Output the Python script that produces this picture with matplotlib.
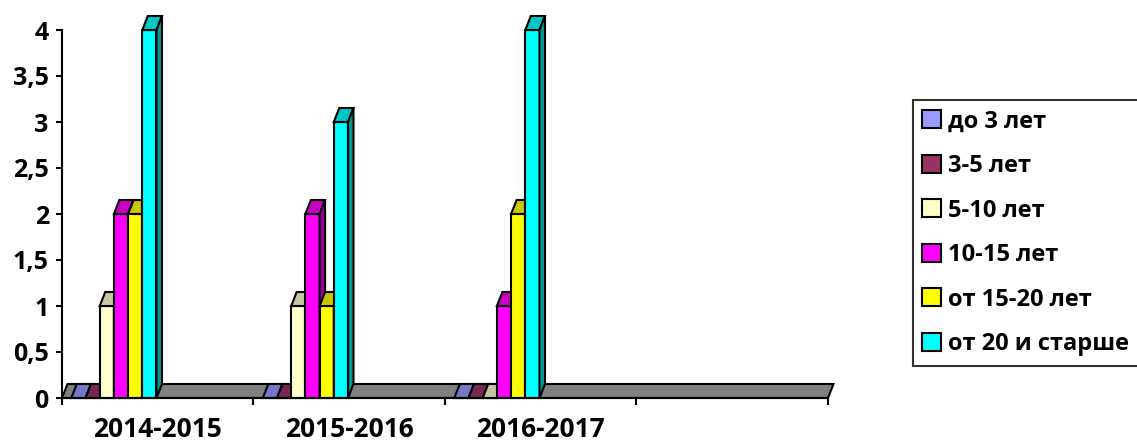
import matplotlib
matplotlib.use("Agg")
import matplotlib.pyplot as plt
from matplotlib.patches import Polygon, Patch
from matplotlib.ticker import FuncFormatter, MultipleLocator
import matplotlib.colors as mcolors

plt.rcParams["font.family"] = ["Open Sans", "DejaVu Sans"]
plt.rcParams["font.weight"] = "bold"

# --- data -------------------------------------------------------------
categories = ["2014-2015", "2015-2016", "2016-2017"]
series = ["до 3 лет", "3-5 лет", "5-10 лет", "10-15 лет", "от 15-20 лет", "от 20 и старше"]
v_do3 = [0, 0, 0]
v_3_5 = [0, 0, 0]
v_5_10 = [1, 1, 0]
v_10_15 = [2, 2, 1]
v_15_20 = [2, 1, 2]
v_20plus = [4, 3, 4]
values = [v_do3, v_3_5, v_5_10, v_10_15, v_15_20, v_20plus]
colors = ["#9999FF", "#993366", "#FFFFCC", "#FF00FF", "#FFFF00", "#00FFFF"]
n_slots = 4  # excel axis keeps one empty slot on the right

W, H = 1137, 441
fig = plt.figure(figsize=(W / 100, H / 100), dpi=100)
x0, x1, y0, y1 = 62, 828, 398, 30
ax = fig.add_axes([x0 / W, 1 - y0 / H, (x1 - x0) / W, (y0 - y1) / H])
ax.set_xlim(0, n_slots)
ax.set_ylim(0, 4)

# pseudo-3d depth offsets in data units
px_x = n_slots / (x1 - x0)
px_y = 4 / (y0 - y1)
dx, dy = 5.5 * px_x, 14 * px_y
bar_w = 14.2 * px_x
first_off = 9.3 * px_x

def shade(c, f):
    r, g, b = mcolors.to_rgb(c)
    return (r * f, g * f, b * f)

lw = 1.5
# floor
ax.add_patch(Polygon([(0, 0), (n_slots, 0), (n_slots + dx, dy), (dx, dy)], closed=True,
                     facecolor="#808080", edgecolor="black", lw=lw, zorder=1, clip_on=False))

for ci in range(len(categories)):
    for si, vals in enumerate(values):
        v = vals[ci]
        left = ci + first_off + si * bar_w
        right = left + bar_w
        z = 2 + si * 0.01 + ci
        ax.bar(left, v, width=bar_w, align="edge", color=colors[si], edgecolor="black",
               lw=lw, zorder=z, clip_on=False)
        ax.add_patch(Polygon([(left, v), (right, v), (right + dx, v + dy), (left + dx, v + dy)],
                             closed=True, facecolor=shade(colors[si], 0.78), edgecolor="black",
                             lw=lw, zorder=z, clip_on=False, joinstyle="miter"))
        if v > 0:
            ax.add_patch(Polygon([(right, 0), (right + dx, dy), (right + dx, v + dy), (right, v)],
                                 closed=True, facecolor=shade(colors[si], 0.6), edgecolor="black",
                                 lw=lw, zorder=z, clip_on=False, joinstyle="miter"))

# axes styling
for s in ["top", "right"]:
    ax.spines[s].set_visible(False)
for s in ["left", "bottom"]:
    ax.spines[s].set_linewidth(lw)
    ax.spines[s].set_zorder(10)
ax.yaxis.set_major_locator(MultipleLocator(0.5))
ax.yaxis.set_major_formatter(FuncFormatter(lambda v, p: f"{v:g}".replace(".", ",")))
ax.tick_params(axis="y", direction="out", length=4.5, width=lw, pad=5, labelsize=18)
ax.set_xticks(range(n_slots + 1))
ax.set_xticklabels([])
ax.set_xticks([i + 0.5 for i in range(len(categories))], minor=True)
ax.set_xticklabels(categories, minor=True)
ax.tick_params(axis="x", which="major", direction="out", length=5, width=lw)
ax.tick_params(axis="x", which="minor", length=0, pad=13, labelsize=19)
for t in ax.get_xticklabels(minor=True) + ax.get_yticklabels():
    t.set_fontweight("bold")

handles = [Patch(facecolor=c, edgecolor="black", lw=lw) for c in colors]
leg = fig.legend(handles, series, loc="upper left", bbox_to_anchor=(913 / W, 1 - 100 / H),
                 borderaxespad=0, fancybox=False, frameon=True, edgecolor="black",
                 prop={"size": 17, "weight": "bold"}, handlelength=0.8, handleheight=0.8,
                 handletextpad=0.3, labelspacing=0.87, borderpad=0.4)
leg.get_frame().set_linewidth(lw)

fig.savefig("out.png", dpi=100)
